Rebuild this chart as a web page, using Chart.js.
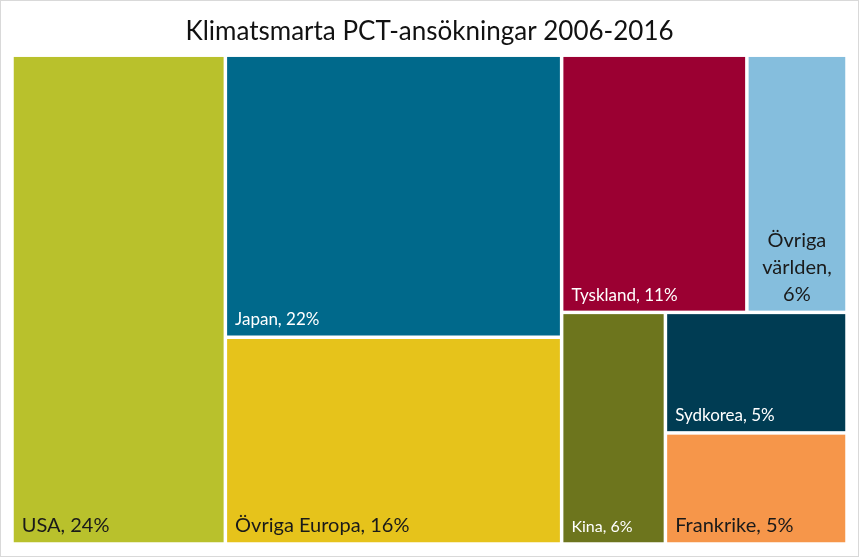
<!DOCTYPE html>
<html>
<head>
<meta charset="utf-8">
<script src="https://cdn.jsdelivr.net/npm/chart.js@4"></script>
<style>
  html, body { margin: 0; padding: 0; background: #fff; }
  #wrap { width: 859px; height: 557px; }
</style>
</head>
<body>
<div id="wrap"><canvas id="treeChart"></canvas></div>
<script>
// data
const countries = ["USA", "Japan", "Övriga Europa", "Tyskland", "Övriga världen", "Kina", "Sydkorea", "Frankrike"];
const shares = [24.3, 22.1, 16.2, 11.1, 6.0, 5.6, 5.1, 4.7];
const cellColors = ["#B9C12C", "#00698B", "#E6C31B", "#9B0032", "#85BEDD", "#6D751D", "#003C53", "#F6964A"];
const labelColors = ["#1a1a1a", "#ffffff", "#1a1a1a", "#ffffff", "#1a1a1a", "#ffffff", "#ffffff", "#1a1a1a"];
const labelSizes = [20, 17, 20, 17, 20, 16, 17, 20];

// nesting of the treemap: "h" = side by side, "v" = stacked
const layoutTree = ["h", 0, ["v", 1, 2], ["v", ["h", 3, 4], ["h", 5, ["v", 6, 7]]]];

function nodeSum(node) {
  if (typeof node === "number") return shares[node];
  return node.slice(1).reduce((s, n) => s + nodeSum(n), 0);
}

// split a rect (in 0..1 data units) proportionally to the values
function layoutCells(node, x0, y0, x1, y1, out) {
  if (typeof node === "number") {
    out.push({ i: node, x0, y0, x1, y1 });
    return out;
  }
  const dir = node[0];
  const kids = node.slice(1);
  const total = nodeSum(node);
  let pos = dir === "h" ? x0 : y0;
  kids.forEach((k) => {
    const f = nodeSum(k) / total;
    if (dir === "h") {
      const w = (x1 - x0) * f;
      layoutCells(k, pos, y0, pos + w, y1, out);
      pos += w;
    } else {
      const h = (y1 - y0) * f;
      layoutCells(k, x0, pos, x1, pos + h, out);
      pos += h;
    }
  });
  return out;
}

const cells = layoutCells(layoutTree, 0, 0, 1, 1, []);

function wrapWords(ctx, text, maxW) {
  if (ctx.measureText(text).width <= maxW) return [text];
  const words = text.split(" ");
  const lines = [];
  let line = "";
  words.forEach((w) => {
    const test = line ? line + " " + w : w;
    if (line && ctx.measureText(test).width > maxW) {
      lines.push(line);
      line = w;
    } else {
      line = test;
    }
  });
  if (line) lines.push(line);
  return lines;
}

const treemapPlugin = {
  id: "treemapCells",
  beforeDraw(chart) {
    const ctx = chart.ctx;
    ctx.save();
    ctx.fillStyle = "#ffffff";
    ctx.fillRect(0, 0, chart.width, chart.height);
    ctx.strokeStyle = "#d9d9d9";
    ctx.lineWidth = 1;
    ctx.strokeRect(0.5, 0.5, chart.width - 1, chart.height - 1);
    ctx.restore();
  },
  afterDatasetsDraw(chart) {
    const { ctx, scales: { x, y } } = chart;
    const gap = 1.75;
    ctx.save();
    cells.forEach((c) => {
      const px0 = x.getPixelForValue(c.x0) + gap;
      const px1 = x.getPixelForValue(c.x1) - gap;
      const py0 = y.getPixelForValue(c.y0) + gap;
      const py1 = y.getPixelForValue(c.y1) - gap;
      ctx.fillStyle = cellColors[c.i];
      ctx.fillRect(px0, py0, px1 - px0, py1 - py0);

      const label = countries[c.i] + ", " + Math.round(shares[c.i]) + "%";
      const size = labelSizes[c.i];
      ctx.font = size + "px Lato";
      ctx.fillStyle = labelColors[c.i];
      ctx.textBaseline = "alphabetic";
      const maxW = px1 - px0 - 16;
      const lines = wrapWords(ctx, label, maxW);
      if (lines.length === 1) {
        ctx.textAlign = "left";
        ctx.fillText(label, px0 + 8, py1 - 10);
      } else {
        ctx.textAlign = "center";
        const lh = size * 1.35;
        const cx = (px0 + px1) / 2;
        lines.forEach((ln, k) => {
          ctx.fillText(ln, cx, py1 - 10 - (lines.length - 1 - k) * lh);
        });
      }
    });
    ctx.restore();
  }
};

new Chart(document.getElementById("treeChart"), {
  type: "scatter",
  data: { datasets: [{ data: [], showLine: false }] },
  options: {
    responsive: true,
    maintainAspectRatio: false,
    animation: false,
    layout: { padding: { left: 12, right: 12, top: 0, bottom: 13 } },
    plugins: {
      legend: { display: false },
      tooltip: { enabled: false },
      title: {
        display: true,
        text: "Klimatsmarta PCT-ansökningar 2006-2016",
        color: "#111111",
        font: { size: 26, family: "Lato", weight: "normal", lineHeight: 1.2 },
        padding: { top: 16, bottom: 8 }
      }
    },
    scales: {
      x: { type: "linear", min: 0, max: 1, display: false },
      y: { type: "linear", min: 0, max: 1, reverse: true, display: false }
    }
  },
  plugins: [treemapPlugin]
});
</script>
</body>
</html>
